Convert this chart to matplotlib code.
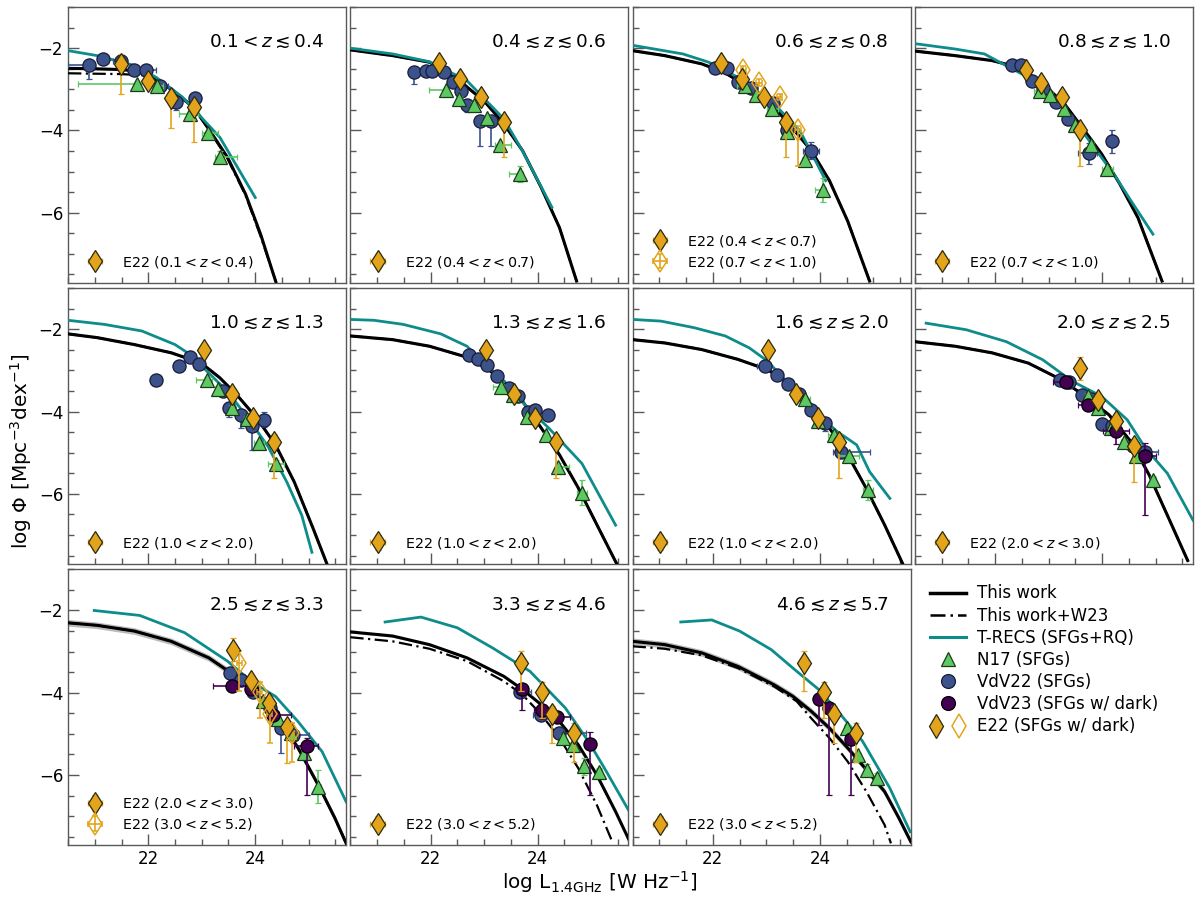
import matplotlib
matplotlib.use('Agg')
import matplotlib.pyplot as plt
from matplotlib.lines import Line2D
from matplotlib.legend_handler import HandlerTuple
from matplotlib.ticker import MultipleLocator

# ---------------- data ----------------
ZBIN_LABELS = [r'$0.1 < z \lesssim 0.4$', r'$0.4 \lesssim z \lesssim 0.6$',
               r'$0.6 \lesssim z \lesssim 0.8$', r'$0.8 \lesssim z \lesssim 1.0$',
               r'$1.0 \lesssim z \lesssim 1.3$', r'$1.3 \lesssim z \lesssim 1.6$',
               r'$1.6 \lesssim z \lesssim 2.0$', r'$2.0 \lesssim z \lesssim 2.5$',
               r'$2.5 \lesssim z \lesssim 3.3$', r'$3.3 \lesssim z \lesssim 4.6$',
               r'$4.6 \lesssim z \lesssim 5.7$']

# "This work" (solid) curves: log L, log Phi
TW_L = [
    [20.5, 21.0, 21.5, 21.75, 22.0, 22.43, 22.85, 23.13, 23.48, 23.82, 24.1, 24.38],
    [20.5, 21.29, 21.98, 22.25, 22.54, 23.02, 23.37, 23.72, 24.07, 24.41, 24.73],
    [20.5, 21.1, 21.79, 22.2, 22.68, 23.15, 23.5, 23.84, 24.18, 24.52, 24.93],
    [20.5, 21.25, 21.94, 22.42, 22.83, 23.3, 23.72, 23.99, 24.33, 24.67, 25.12],
    [20.5, 21.04, 21.74, 22.43, 22.99, 23.34, 23.68, 24.03, 24.38, 24.73, 25.07, 25.34],
    [20.5, 21.29, 21.98, 22.61, 23.02, 23.37, 23.72, 24.07, 24.41, 24.76, 25.11, 25.5],
    [20.5, 21.10, 21.79, 22.47, 23.02, 23.43, 23.84, 24.18, 24.52, 24.87, 25.21, 25.55],
    [20.5, 21.25, 21.94, 22.62, 23.17, 23.65, 24.13, 24.54, 24.88, 25.22, 25.6],
    [20.5, 21.04, 21.74, 22.43, 23.13, 23.55, 23.96, 24.38, 24.80, 25.21, 25.49, 25.7],
    [20.5, 21.29, 21.98, 22.68, 23.37, 23.72, 24.07, 24.41, 24.76, 25.11, 25.46, 25.7],
    [20.5, 21.10, 21.79, 22.47, 23.15, 23.50, 23.84, 24.18, 24.52, 24.87, 25.21, 25.48, 25.7],
]
TW_PHI = [
    [-2.49, -2.50, -2.52, -2.55, -2.66, -2.99, -3.44, -3.96, -4.65, -5.55, -6.52, -7.66],
    [-2.04, -2.18, -2.34, -2.55, -2.79, -3.31, -3.84, -4.49, -5.39, -6.36, -7.66],
    [-2.06, -2.18, -2.38, -2.58, -2.95, -3.44, -3.96, -4.49, -5.22, -6.20, -7.66],
    [-2.07, -2.18, -2.30, -2.46, -2.79, -3.36, -4.09, -4.57, -5.30, -6.12, -7.66],
    [-2.11, -2.20, -2.37, -2.57, -2.82, -3.18, -3.63, -4.16, -4.81, -5.71, -6.80, -7.70],
    [-2.16, -2.25, -2.41, -2.65, -2.92, -3.26, -3.75, -4.40, -5.05, -5.85, -6.75, -7.75],
    [-2.25, -2.33, -2.49, -2.73, -2.98, -3.30, -3.83, -4.40, -5.05, -5.87, -6.75, -7.70],
    [-2.30, -2.41, -2.57, -2.82, -3.18, -3.59, -4.08, -4.73, -5.54, -6.52, -7.62],
    [-2.30, -2.36, -2.50, -2.75, -3.15, -3.52, -3.92, -4.53, -5.34, -6.32, -7.05, -7.66],
    [-2.52, -2.62, -2.83, -3.15, -3.60, -3.92, -4.29, -4.70, -5.26, -6.00, -6.89, -7.55],
    [-2.75, -2.83, -3.03, -3.36, -3.81, -4.09, -4.45, -4.86, -5.34, -5.87, -6.40, -7.05, -7.62],
]
# half-width of the grey uncertainty band on "This work"
TW_UNC = [0.03, 0.03, 0.03, 0.03, 0.03, 0.03, 0.03, 0.03, 0.08, 0.03, 0.08]

# "This work+W23" (dash-dot): None -> coincides with solid curve
TWW_L = [
    [20.5, 21.0, 21.5, 21.9, 22.2, 22.43, 22.85, 23.13, 23.48, 23.82, 24.1, 24.4],
    None, None, None, None, None, None, None, None,
    [20.5, 21.29, 21.98, 22.68, 23.37, 23.72, 24.07, 24.41, 24.76, 25.11, 25.41],
    [20.5, 21.10, 21.79, 22.47, 23.15, 23.57, 23.84, 24.18, 24.52, 24.87, 25.21, 25.33],
]
TWW_PHI = [
    [-2.61, -2.62, -2.63, -2.66, -2.82, -3.01, -3.46, -3.98, -4.68, -5.58, -6.57, -7.72],
    None, None, None, None, None, None, None, None,
    [-2.65, -2.75, -2.93, -3.23, -3.72, -4.05, -4.53, -5.10, -5.83, -6.73, -7.66],
    [-2.87, -2.93, -3.09, -3.40, -3.85, -4.21, -4.62, -5.10, -5.67, -6.40, -7.21, -7.66],
]

# T-RECS (SFGs+RQ)
TR_L = [
    [20.5, 21.04, 21.74, 22.15, 22.64, 23.34, 24.0],
    [20.5, 21.29, 21.98, 22.68, 23.37, 23.72, 24.27],
    [20.5, 21.44, 21.92, 22.47, 23.15, 23.63, 24.11],
    [20.5, 21.25, 21.80, 22.14, 22.62, 23.30, 23.85, 24.26, 24.54, 24.95],
    [20.5, 21.18, 21.88, 22.5, 22.78, 23.13, 23.48, 23.82, 24.24, 24.59, 24.87, 25.06],
    [20.5, 20.94, 21.49, 22.19, 22.68, 23.02, 23.37, 23.79, 24.21, 24.83, 25.46],
    [20.5, 21.03, 21.65, 22.23, 22.68, 23.02, 23.43, 23.98, 24.32, 24.69, 24.93, 25.31],
    [20.71, 21.46, 22.21, 22.89, 23.44, 23.99, 24.47, 24.81, 25.22, 25.7],
    [20.99, 21.84, 22.68, 23.48, 23.96, 24.38, 24.80, 25.25, 25.7],
    [21.15, 21.82, 22.50, 23.16, 23.86, 24.52, 24.97, 25.25, 25.7],
    [21.40, 21.98, 22.50, 23.09, 23.57, 23.98, 24.39, 24.80, 25.31, 25.69],
]
TR_PHI = [
    [-2.06, -2.18, -2.42, -2.71, -3.19, -4.17, -5.63],
    [-2.00, -2.14, -2.33, -2.79, -3.72, -4.50, -5.87],
    [-1.93, -2.14, -2.34, -2.71, -3.36, -4.01, -5.22],
    [-1.89, -2.02, -2.14, -2.38, -2.71, -3.44, -4.41, -5.14, -5.71, -6.52],
    [-1.78, -1.88, -2.04, -2.37, -2.61, -3.06, -3.51, -4.08, -4.85, -5.71, -6.52, -7.42],
    [-1.76, -1.78, -1.88, -2.11, -2.41, -2.86, -3.26, -3.87, -4.40, -5.26, -6.76],
    [-1.76, -1.80, -1.96, -2.16, -2.45, -2.77, -3.34, -4.08, -4.48, -4.81, -5.46, -6.11],
    [-1.85, -2.01, -2.30, -2.74, -3.26, -3.63, -4.20, -4.89, -5.50, -6.64],
    [-2.00, -2.12, -2.54, -3.23, -3.76, -4.09, -4.70, -5.43, -6.65],
    [-2.28, -2.16, -2.42, -2.91, -3.48, -4.37, -5.22, -5.83, -6.85],
    [-2.28, -2.23, -2.50, -2.95, -3.48, -3.92, -4.53, -5.18, -6.32, -7.38],
]

# point data rows: (logL, logPhi[, yerr_lo, yerr_hi, xerr_lo, xerr_hi])
N17 = [
    [(21.79, -2.87, .05, .05, 1.1, .2), (22.17, -2.91, .05, .05, .1, .1), (22.78, -3.60, .05, .05, .2, .15),
     (23.11, -4.07, .05, .05, .1, .2), (23.35, -4.65, .15, .15, .1, .3)],
    [(22.28, -3.01, .05, .05, .3, .05), (22.54, -3.23), (22.82, -3.37), (23.06, -3.70),
     (23.30, -4.35, .05, .05, .1, .2), (23.67, -5.06, .2, .2, .2, .05)],
    [(22.61, -2.91, .05, .05, .15, .05), (22.81, -3.15), (23.11, -3.48, .05, .05, .1, .1), (23.39, -4.03),
     (23.72, -4.72), (24.06, -5.45, .3, .3, .15, .05)],
    [(22.83, -3.03, .05, .05, .1, .05), (23.03, -3.15), (23.28, -3.48), (23.50, -3.86), (23.80, -4.35),
     (24.10, -4.94, .05, .05, .1, .1)],
    [(23.09, -3.22, .05, .05, .2, .1), (23.30, -3.44), (23.56, -3.90), (23.84, -4.18),
     (24.07, -4.77, .05, .05, .1, .1), (24.39, -5.28, .1, .1, .15, .15)],
    [(23.32, -3.41, .05, .05, .15, .05), (23.55, -3.59), (23.80, -4.14), (24.15, -4.57),
     (24.39, -5.34, .1, .1, .05, .2), (24.83, -5.97, .3, .3, .1, .1)],
    [(23.72, -3.69, .05, .05, .1, .1), (23.96, -4.22), (24.26, -4.57, .05, .05, .1, .1),
     (24.54, -5.07, .05, .05, .2, .2), (24.90, -5.91, .25, .25, .1, .1)],
    [(23.73, -3.63), (23.93, -3.91), (24.17, -4.40), (24.41, -4.74), (24.64, -5.07), (24.95, -5.66, .1, .1)],
    [(24.14, -4.21), (24.42, -4.63), (24.67, -4.98), (24.92, -5.47), (25.18, -6.28, .4, .4)],
    [(24.47, -5.10), (24.66, -5.26), (24.86, -5.79, .2, .2), (25.15, -5.93, .1, .1)],
    [(24.51, -4.86, .1, .1), (24.71, -5.52), (24.88, -5.87, .15, .15), (25.06, -6.06, .1, .1)],
]
VDV22 = [
    [(20.89, -2.40, .35, .05, .40, .10), (21.15, -2.26), (21.49, -2.32, .05, .05, .15, .10), (21.74, -2.52),
     (21.95, -2.52, .05, .05, .10, .20), (22.22, -2.91, .05, .05, .05, .15), (22.52, -3.31, .20, .05),
     (22.88, -3.21, .10, .10, .10, .05)],
    [(21.69, -2.57, .30, .05), (21.91, -2.56), (22.03, -2.56), (22.26, -2.58), (22.42, -2.83), (22.57, -3.05),
     (22.68, -3.37, .18, .05), (22.92, -3.78, .59, .10), (23.13, -3.78, .59, .10)],
    [(22.04, -2.48, .05, .05, .08, .05), (22.27, -2.48), (22.47, -2.83, .05, .05, .10, .05), (22.71, -2.97),
     (23.12, -3.34, .05, .05, .10, .10), (23.39, -4.00, .10, .10), (23.84, -4.49, .20, .20, .15, .15)],
    [(22.31, -2.40, .05, .05, .10, .05), (22.48, -2.40), (22.68, -2.79), (22.89, -2.97, .05, .05, .05, .10),
     (23.13, -3.31), (23.37, -3.72, .10, .10), (23.75, -4.56, .25, .25, .20, .15), (24.19, -4.26, .30, .28, .10, .05)],
    [(22.15, -3.22), (22.57, -2.90), (22.78, -2.68), (22.95, -2.84), (23.39, -3.49), (23.51, -3.90, .24, .05),
     (23.73, -4.08, .32, .05), (23.94, -4.36, .57, .10), (24.17, -4.20, .18, .18)],
    [(22.72, -2.63), (22.88, -2.71), (23.06, -2.86), (23.25, -3.14), (23.46, -3.43), (23.63, -3.61),
     (23.82, -4.00, .10, .10, .10, .05), (23.96, -3.96), (24.19, -4.09, .10, .10)],
    [(22.98, -2.88, .05, .05, .15, .05), (23.19, -3.12), (23.41, -3.33), (23.62, -3.56), (23.84, -3.95),
     (24.10, -4.28, .20, .05), (24.39, -4.98, .05, .05, .15, .55)],
    [(23.22, -3.22, .05, .05, .10, .05), (23.39, -3.28), (23.63, -3.59), (23.80, -3.69), (23.99, -4.30, .15, .15),
     (24.19, -4.34), (24.57, -4.84, .05, .05, .10, .10), (24.80, -4.97, .10, .10, .15, .25)],
    [(23.52, -3.53), (23.73, -3.70), (23.96, -3.99), (24.27, -4.37), (24.48, -4.86, .61, .05),
     (24.71, -5.02, .05, .05, .10, .30)],
    [(23.68, -3.98, .10, .10, .10, .20), (24.07, -4.53, .10, .10, .15, .10), (24.41, -4.98, .05, .05, .05, .50)],
    [],
]
VDV23 = [
    [], [], [], [], [], [], [],
    [(23.33, -3.28, .05, .05, .25, .05), (23.74, -3.83, .05, .05, .20, .25), (24.26, -4.48, .30, .10, .25, .25),
     (24.81, -5.07, 1.45, .30, .10, .20)],
    [(23.57, -3.84, .05, .05, .36, .25), (23.93, -3.92, .05, .05, .10, .10), (24.34, -4.53, .10, .10, .10, .33),
     (24.97, -5.30, 1.18, .20, .25, .20)],
    [(23.71, -3.92, .50, .10, .10, .10), (24.09, -4.43, .20, .10, .15, .10), (24.36, -4.60, .10, .10, .10, .25),
     (24.99, -5.25, 1.23, .30, .05, .05)],
    [(23.98, -4.15, .63, .10), (24.18, -4.37, 2.11, .10), (24.59, -5.13, 1.35, .10)],
]

# E22 binned LFs
E22_01_04 = [(21.49, -2.38, .73, .24), (21.99, -2.79, .10, .10), (22.42, -3.21, .73, .10), (22.85, -3.42, .87, .10)]
E22_04_07 = [(22.15, -2.37, .08, .08), (22.55, -2.76, .08, .08), (22.95, -3.19, .08, .08), (23.37, -3.80, .85, .10)]
E22_07_10 = [(22.57, -2.52, .08, .08), (22.86, -2.84, .08, .08), (23.25, -3.19, .08, .08), (23.59, -3.99, .87, .10)]
E22_10_20 = [(23.04, -2.51, .10, .10), (23.56, -3.58, .10, .10), (23.96, -4.16, .10, .10), (24.35, -4.74, .87, .20)]
E22_20_30 = [(23.58, -2.95, .27, .27), (23.93, -3.72, .10, .10), (24.26, -4.24, .10, .10), (24.60, -4.83, .87, .10)]
E22_30_52 = [(23.70, -3.27, .69, .28), (24.08, -3.97, .65, .24), (24.27, -4.51, .70, .20), (24.68, -4.98, .70, .25)]

E22_FILLED = [(E22_01_04, r'E22 ($0.1 < z < 0.4$)'), (E22_04_07, r'E22 ($0.4 < z < 0.7$)'),
              (E22_04_07, r'E22 ($0.4 < z < 0.7$)'), (E22_07_10, r'E22 ($0.7 < z < 1.0$)'),
              (E22_10_20, r'E22 ($1.0 < z < 2.0$)'), (E22_10_20, r'E22 ($1.0 < z < 2.0$)'),
              (E22_10_20, r'E22 ($1.0 < z < 2.0$)'), (E22_20_30, r'E22 ($2.0 < z < 3.0$)'),
              (E22_20_30, r'E22 ($2.0 < z < 3.0$)'), (E22_30_52, r'E22 ($3.0 < z < 5.2$)'),
              (E22_30_52, r'E22 ($3.0 < z < 5.2$)')]
E22_OPEN = [None, None, (E22_07_10, r'E22 ($0.7 < z < 1.0$)'), None, None, None, None, None,
            (E22_30_52, r'E22 ($3.0 < z < 5.2$)'), None, None]

# ---------------- style ----------------
C_TR = '#0e8c8c'
C_N17 = '#5ec962'
C_V22 = '#3b528b'
C_V23 = '#440154'
C_E22 = '#e3a41c'
SPINE = '0.35'

plt.rcParams['font.family'] = ['DejaVu Sans']
plt.rcParams['mathtext.fontset'] = 'dejavusans'


def unpack(rows):
    L, P, ylo, yhi, xlo, xhi = [], [], [], [], [], []
    for r in rows:
        L.append(r[0]); P.append(r[1])
        ylo.append(r[2] if len(r) > 2 else 0.05)
        yhi.append(r[3] if len(r) > 3 else 0.05)
        xlo.append(r[4] if len(r) > 4 else 0.05)
        xhi.append(r[5] if len(r) > 5 else 0.05)
    return L, P, [ylo, yhi], [xlo, xhi]


fig, axes = plt.subplots(3, 4, figsize=(12, 9.02), dpi=100, sharex=True, sharey=True)
fig.subplots_adjust(left=0.0567, right=0.9942, top=0.9922, bottom=0.0632, wspace=0.015, hspace=0.02)
axs = axes.ravel()

for i in range(11):
    ax = axs[i]
    lo = [p - TW_UNC[i] for p in TW_PHI[i]]
    hi = [p + TW_UNC[i] for p in TW_PHI[i]]
    ax.fill_between(TW_L[i], lo, hi, color='0.55', alpha=0.6, lw=0, zorder=2)
    ax.plot(TW_L[i], TW_PHI[i], color='k', lw=2.2, zorder=3)
    if TWW_L[i] is not None:
        ax.plot(TWW_L[i], TWW_PHI[i], color='k', lw=1.6, ls=(0, (6, 2, 1, 2)), zorder=3)
    else:
        ax.plot(TW_L[i], TW_PHI[i], color='k', lw=1.6, ls=(0, (6, 2, 1, 2)), zorder=3)
    ax.plot(TR_L[i], TR_PHI[i], color=C_TR, lw=2.0, zorder=4)

    if VDV22[i]:
        L, P, ye, xe = unpack(VDV22[i])
        ax.errorbar(L, P, yerr=ye, xerr=xe, fmt='o', ms=9.5, mfc=C_V22, mec='#1a1a3a', mew=0.9,
                    ecolor=C_V22, elinewidth=1.2, capsize=2.2, zorder=5)
    if N17[i]:
        L, P, ye, xe = unpack(N17[i])
        ax.errorbar(L, P, yerr=ye, xerr=xe, fmt='^', ms=9.5, mfc=C_N17, mec='#1a3a1a', mew=0.9,
                    ecolor=C_N17, elinewidth=1.2, capsize=2.2, zorder=6)
    if VDV23[i]:
        L, P, ye, xe = unpack(VDV23[i])
        ax.errorbar(L, P, yerr=ye, xerr=xe, fmt='o', ms=9.5, mfc=C_V23, mec='k', mew=0.9,
                    ecolor=C_V23, elinewidth=1.2, capsize=2.2, zorder=7)

    handles = []
    data, lab = E22_FILLED[i]
    L, P, ye, xe = unpack(data)
    h = ax.errorbar(L, P, yerr=ye, xerr=xe, fmt='d', ms=11.5, mfc=C_E22, mec='#2a2a10', mew=0.9,
                    ecolor=C_E22, elinewidth=1.2, capsize=2.2, zorder=8, label=lab)
    handles.append(h)
    if E22_OPEN[i] is not None:
        data, lab = E22_OPEN[i]
        L, P, ye, xe = unpack(data)
        h = ax.errorbar(L, P, yerr=ye, xerr=xe, fmt='d', ms=11.5, mfc='none', mec=C_E22, mew=1.1,
                        ecolor=C_E22, elinewidth=1.2, capsize=2.2, zorder=8, label=lab)
        handles.append(h)
    ax.legend(handles=handles, loc='lower left', frameon=False, fontsize=10.3,
              handletextpad=0.9, borderaxespad=0.5, labelspacing=0.35)

    ax.text(0.92, 0.873, ZBIN_LABELS[i], transform=ax.transAxes, ha='right', va='center', fontsize=13.3)

for ax in axs:
    ax.set_xlim(20.5, 25.7)
    ax.set_ylim(-7.7, -1.0)
    ax.xaxis.set_major_locator(MultipleLocator(2))
    ax.xaxis.set_minor_locator(MultipleLocator(0.5))
    ax.yaxis.set_major_locator(MultipleLocator(2))
    ax.yaxis.set_minor_locator(MultipleLocator(0.5))
    ax.tick_params(which='both', direction='in', color=SPINE, labelsize=12)
    ax.tick_params(which='major', length=8, width=1.0)
    ax.tick_params(which='minor', length=4.5, width=1.0)
    for s in ax.spines.values():
        s.set_color(SPINE)
        s.set_linewidth(1.0)

# legend panel
lax = axs[11]
lax.axis('off')
leg_handles = [
    Line2D([], [], color='k', lw=2.5),
    Line2D([], [], color='k', lw=1.8, ls=(0, (6, 2, 1, 2))),
    Line2D([], [], color=C_TR, lw=2.2),
    Line2D([], [], ls='none', marker='^', ms=10, mfc=C_N17, mec='#1a3a1a', mew=0.9),
    Line2D([], [], ls='none', marker='o', ms=10, mfc=C_V22, mec='#1a1a3a', mew=0.9),
    Line2D([], [], ls='none', marker='o', ms=10, mfc=C_V23, mec='k', mew=0.9),
    (Line2D([], [], ls='none', marker='d', ms=12, mfc=C_E22, mec='#2a2a10', mew=0.9),
     Line2D([], [], ls='none', marker='d', ms=12, mfc='none', mec=C_E22, mew=1.1)),
]
leg_labels = ['This work', 'This work+W23', 'T-RECS (SFGs+RQ)', 'N17 (SFGs)', 'VdV22 (SFGs)',
              'VdV23 (SFGs w/ dark)', 'E22 (SFGs w/ dark)']
lax.legend(leg_handles, leg_labels, loc='upper left', bbox_to_anchor=(0.0, 1.0), frameon=False,
           fontsize=12, handlelength=2.15, handletextpad=0.7, labelspacing=0.25,
           handler_map={tuple: HandlerTuple(ndivide=None, pad=0.6)})

fig.text(0.5, 0.022, r'$\log\,\mathrm{L}_{\mathrm{1.4GHz}}\ [\mathrm{W\ Hz^{-1}}]$', ha='center', va='center',
         fontsize=14.4)
fig.text(0.0175, 0.5, r'$\log\,\Phi\ [\mathrm{Mpc^{-3}dex^{-1}}]$', ha='center', va='center',
         rotation=90, fontsize=14.4)

fig.savefig('out.png', dpi=100)
